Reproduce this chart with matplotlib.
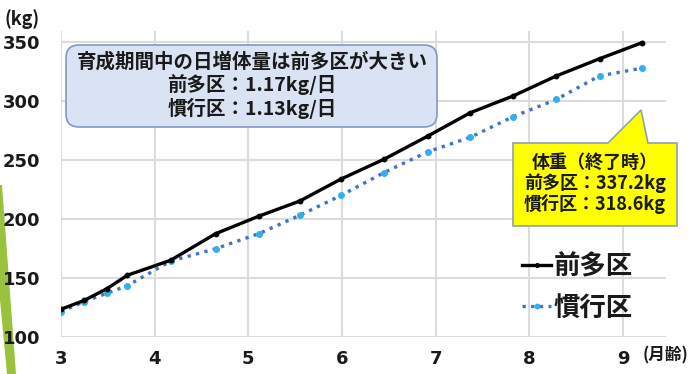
import matplotlib
matplotlib.use("Agg")
import matplotlib.pyplot as plt
from matplotlib.patches import FancyBboxPatch, Polygon
from matplotlib.transforms import IdentityTransform

plt.rcParams['font.family'] = ['Noto Sans CJK JP', 'DejaVu Sans']
plt.rcParams['font.weight'] = 'bold'

# Data (months of age vs body weight, kg)
months = [3.0, 3.25, 3.49, 3.71, 4.17, 4.65, 5.11, 5.55, 5.99, 6.45, 6.92, 7.37, 7.83, 8.29, 8.75, 9.2]
maeda = [123.5, 131.0, 140.9, 152.3, 164.9, 187.4, 202.2, 215.1, 233.7, 250.5, 270.2, 289.8, 304.1, 321.0, 335.5, 349.0]
kanko = [121.4, 130.0, 137.0, 143.5, 164.2, 174.7, 187.4, 203.0, 219.8, 239.2, 256.9, 269.0, 286.6, 301.1, 321.0, 327.5]
series_names = ['前多区', '慣行区']
xticks = [3, 4, 5, 6, 7, 8, 9]
yticks = [100, 150, 200, 250, 300, 350]

W, H = 690, 374
fig = plt.figure(figsize=(W / 100, H / 100), dpi=100)
fig.patch.set_facecolor('white')

def fx(px):
    return px / W

def fy(py):
    return 1 - py / H

ax = fig.add_axes([fx(61), fy(337), fx(666) - fx(61), fy(31) - fy(337)])
ax.set_xlim(3, 9.46)
ax.set_ylim(100, 359)
ax.set_xticks(xticks)
ax.set_yticks(yticks)
ax.grid(True, color='#dcdcdc', lw=1.5)
ax.set_axisbelow(True)
for s in ax.spines.values():
    s.set_visible(False)
ax.tick_params(length=0, labelsize=13)
ax.tick_params(axis='y', pad=15)
ax.tick_params(axis='x', pad=9)
for lab in ax.get_xticklabels() + ax.get_yticklabels():
    lab.set_fontweight('bold')
    lab.set_family(['DejaVu Sans'])
    lab.set_color('#1a1a1a')

l1, = ax.plot(months, maeda, color='black', lw=2.4, marker='o', ms=3.2, label=series_names[0], zorder=4)
l2, = ax.plot(months, kanko, color='#4472c4', lw=2.4, ls=(0, (1, 1.6)), marker='o', ms=4,
              mfc='#2fb0f0', mec='#2fb0f0', label=series_names[1], zorder=3)

leg = ax.legend(handles=[l1, l2], loc='upper left', bbox_to_anchor=(fx(509), fy(240)),
                bbox_transform=fig.transFigure, frameon=False, fontsize=19,
                handlelength=1.1, handletextpad=0.1, labelspacing=0.55, borderpad=0,
                markerscale=0.8)
for t in leg.get_texts():
    t.set_fontweight('bold')
    t.set_color('#1a1a1a')

ident = IdentityTransform()

# info box
box = FancyBboxPatch((66, H - 127), 371, 82, boxstyle='round,pad=0,rounding_size=13',
                     fc='#dae3f3', ec='#8197c4', lw=1.2, transform=ident, zorder=5)
fig.add_artist(box)
info = ['育成期間中の日増体量は前多区が大きい', '前多区：1.17kg/日', '慣行区：1.13kg/日']
for t, yy in zip(info, [62, 85, 108]):
    fig.text(252, H - yy, t, transform=ident, ha='center', va='center', fontsize=14,
             fontweight='bold', color='#1a1a1a', zorder=6)

# callout
call = Polygon([(513, H - 143), (608, H - 143), (641, H - 110), (648, H - 143), (677, H - 143),
                (677, H - 226), (513, H - 226)], closed=True, fc='#ffff00', ec='#8ea0bb', lw=1.2,
               transform=ident, zorder=5)
fig.add_artist(call)
ctext = ['体重（終了時）', '前多区：337.2kg', '慣行区：318.6kg']
for t, yy in zip(ctext, [162, 183, 204]):
    fig.text(595, H - yy, t, transform=ident, ha='center', va='center', fontsize=13,
             fontweight='bold', color='#1a1a1a', zorder=6)

# axis unit labels
fig.text(5, H - 19, '(kg)', transform=ident, ha='left', va='center', fontsize=13,
         fontweight='bold', color='#1a1a1a')
fig.text(643, H - 355, '(月齢)', transform=ident, ha='left', va='center', fontsize=12,
         fontweight='bold', color='#1a1a1a')

# green decorative wedge on the left edge
wedge = Polygon([(0, H - 185), (2, H - 185), (16, H - 374), (7, H - 374), (0, H - 300)], closed=True,
                fc='#9bc23c', ec='none', transform=ident, zorder=0)
fig.add_artist(wedge)

fig.savefig('out.png', dpi=100)
